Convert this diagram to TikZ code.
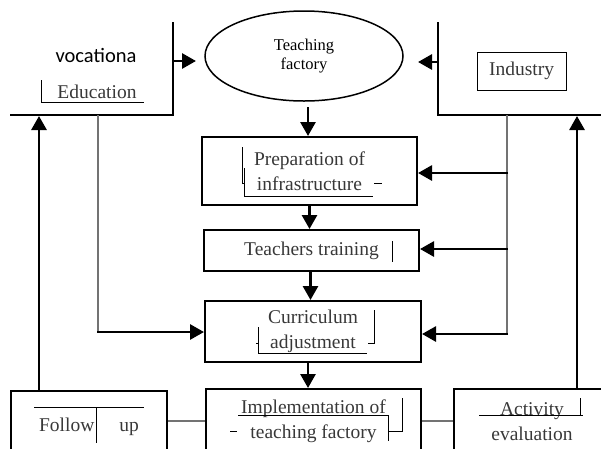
\documentclass[tikz,border=0pt]{standalone}
\usepackage{fontspec}
\setmainfont{Liberation Serif}
\newfontfamily\calib{Carlito}
\usetikzlibrary{arrows.meta,shapes.geometric}
\begin{document}
\begin{tikzpicture}[x=1pt,y=-1pt,
  box/.style={draw, line width=2pt, rectangle, inner sep=0pt, align=center,
    font=\fontsize{19.5}{25}\selectfont, text=black!78},
  lbl/.style={inner sep=0pt, font=\fontsize{19.5}{25}\selectfont, text=black!78},
  arr/.style={line width=2.8pt, -{Triangle[length=14pt,width=15pt]}},
  thinl/.style={line width=1.1pt, draw=black!55},
  deco/.style={line width=0.8pt},
  open/.style={line width=2pt},
]
\useasboundingbox (0,0) rectangle (601,448);
\clip (0,0) rectangle (601,448);

% open boxes
\draw[open] (173,22) -- (173,115) -- (10,115);
\draw[open] (438,22) -- (438,115) -- (605,115);
\node[inner sep=0pt, font=\calib\fontsize{20.5}{24}\selectfont] (voc) at (96,55) {vocationa};
\node[lbl] (edu) at (97,92) {Education};
\draw[deco] (41,80) -- (41,102) -- (144,102);

\node[draw, line width=1pt, minimum width=89pt, minimum height=38pt, inner sep=0pt,
  font=\fontsize{19.5}{25}\selectfont, text=black!78] (ind) at (521.5,71) {Industry};

% ellipse
\node[ellipse, draw, line width=1.5pt, minimum width=198pt, minimum height=90pt,
  inner sep=0pt, align=center, font=\fontsize{16.5}{19}\selectfont] (tf) at (304,56) {Teaching\\factory};

% main boxes
\node[box, minimum width=215pt, minimum height=68pt] (prep) at (309.5,171) {Preparation of\\infrastructure};
\node[box, minimum width=215pt, minimum height=41pt] (teach) at (311.5,250.5) {Teachers training};
\node[box, minimum width=216pt, minimum height=61pt] (curr) at (313,331.5) {Curriculum\\adjustment};
\node[box, minimum width=215pt, minimum height=64pt] (impl) at (313.5,421) {Implementation of\\teaching factory};
\node[box, minimum width=156pt, minimum height=72pt] (fol) at (89,427) {Follow\hspace{25pt}up};
\node[box, minimum width=156pt, minimum height=66pt] (act) at (532,422) {Activity\\evaluation};

% decorative marks
\draw[deco] (242,147) -- (242,183) -- (245,183);
\draw[deco] (244,168) -- (244,196) -- (373,196);
\draw[deco] (374,183) -- (382,183);
\draw[deco] (392,241) -- (392,262);
\draw[deco] (374,310) -- (374,343) -- (368,343);
\draw[deco] (256,343) -- (258,343);
\draw[deco] (258,327) -- (258,353) -- (367,353);
\draw[deco] (238,415) -- (388,415) -- (388,441);
\draw[deco] (402,398) -- (402,431) -- (388,431);
\draw[deco] (230,431) -- (237,431);
\draw[deco] (34,407) -- (144,407);
\draw[deco] (96,407) -- (96,443);
\draw[deco] (479,415) -- (583,415);
\draw[deco] (580,398) -- (580,415);

% top arrows
\coordinate (vocR) at (174,61);
\coordinate (vocTip) at (196,61);
\draw[arr] (vocR) -- (vocTip);
\coordinate (indL) at (437,62);
\coordinate (indTip) at (418,62);
\draw[arr] (indL) -- (indTip);

% vertical chain
\coordinate (tfB) at (308,107);
\draw[arr] (tfB) -- (tfB |- prep.north);
\draw[arr] (prep.south) -- (prep.south |- teach.north);
\draw[arr] ([xshift=-1pt]teach.south) -- ([xshift=-1pt]teach.south |- curr.north);
\draw[arr] ([xshift=-5pt]curr.south) -- ([xshift=-5pt]curr.south |- impl.north);

% left feed
\coordinate (lTop) at (98,115);
\coordinate (lc) at (98,332);
\draw[thinl] (lTop) -- (lc);
\draw[arr] ([xshift=-1pt]lc) -- (lc -| curr.west);

% right feed
\coordinate (rTop) at (507,115);
\coordinate (r1) at (507,173);
\coordinate (r2) at (507,249);
\coordinate (r3) at (507,334);
\draw[thinl] (rTop) -- (r3);
\draw[arr] ([xshift=1pt]r1) -- (r1 -| prep.east);
\draw[arr] ([xshift=1pt]r2) -- (r2 -| teach.east);
\draw[arr] ([xshift=1pt]r3) -- (r3 -| curr.east);

% big return arrows
\coordinate (L1) at (39,116);
\draw[arr] (L1 |- fol.north) -- (L1);
\coordinate (R1) at (577,116);
\draw[arr] (R1 |- act.north) -- (R1);

% bottom links
\draw[thinl] (fol.east |- impl.west) -- (impl.west);
\draw[thinl] (impl.east) -- (impl.east -| act.west);
\end{tikzpicture}
\end{document}
